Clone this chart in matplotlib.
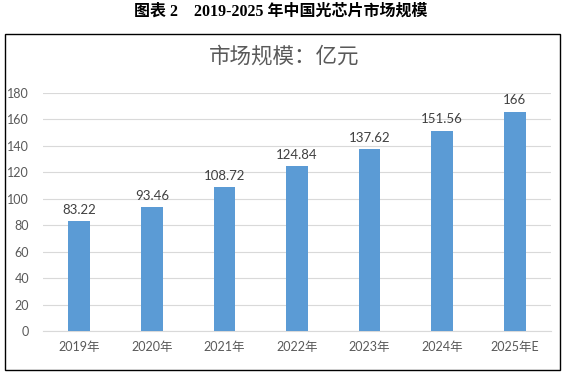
import matplotlib.pyplot as plt
from matplotlib.patches import Rectangle

years = ['2019年', '2020年', '2021年', '2022年', '2023年', '2024年', '2025年E']
market_size = [83.22, 93.46, 108.72, 124.84, 137.62, 151.56, 166]
value_labels = ['83.22', '93.46', '108.72', '124.84', '137.62', '151.56', '166']

plt.rcParams['font.family'] = ['Lato', 'Noto Sans CJK SC', 'DejaVu Sans']

fig = plt.figure(figsize=(5.64, 3.78), dpi=100)
ax = fig.add_axes([43 / 564, 1 - 331 / 378, 508 / 564, 238 / 378])

x = list(range(len(years)))
ax.bar(x, market_size, width=0.3, color='#5B9BD5', zorder=3)
for xi, v, lab in zip(x, market_size, value_labels):
    ax.text(xi, v + 4, lab, ha='center', va='bottom', fontsize=9.5, color='#404040')

ax.set_xlim(-0.5, len(years) - 0.5)
ax.set_ylim(0, 180)
ax.set_yticks(range(0, 181, 20))
ax.set_xticks(x)
ax.set_xticklabels(years)
ax.tick_params(axis='both', length=0, labelsize=9, colors='#595959')
ax.tick_params(axis='y', pad=10)
ax.tick_params(axis='x', pad=7)
ax.grid(axis='y', color='#D9D9D9', linewidth=0.8, zorder=0)
for side in ['top', 'right', 'left']:
    ax.spines[side].set_visible(False)
ax.spines['bottom'].set_color('#D9D9D9')

# chart frame and titles
fig.patches.append(Rectangle((5 / 564, 1 - 370 / 378), 555 / 564, 336 / 378,
                             transform=fig.transFigure, fill=False,
                             edgecolor='black', linewidth=1))
fig.text(284 / 564, 1 - 57 / 378, '市场规模：亿元', ha='center', va='center',
         fontsize=15.5, color='#595959', family=['Noto Sans CJK SC'])
fig.text(281 / 564, 1 - 12 / 378, '图表 2    2019-2025 年中国光芯片市场规模',
         ha='center', va='center', fontsize=11.5, fontweight='bold', color='black',
         family=['Liberation Serif', 'Noto Sans CJK SC'])

fig.savefig('out.png', dpi=100)
